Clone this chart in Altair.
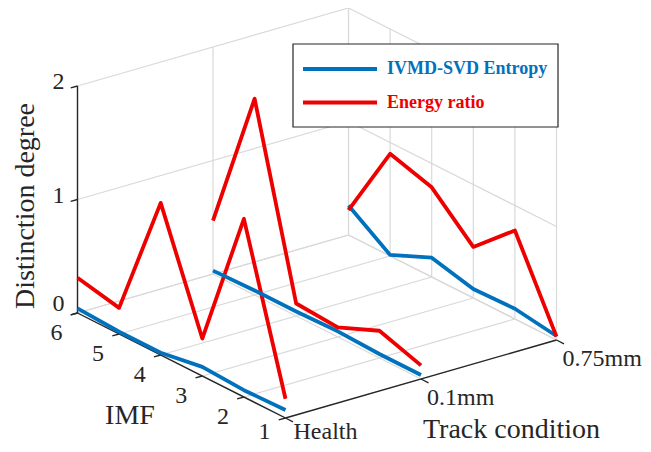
import altair as alt
import pandas as pd

# ---------------- data ----------------
imf_values = [1, 2, 3, 4, 5, 6]
conditions = ["Health", "0.1mm", "0.75mm"]
series_names = ["IVMD-SVD Entropy", "Energy ratio"]
series_colors = ["#0072BD", "#EE0000"]

# values for IMF 1..6
entropy_health = [0.07, 0.06, 0.08, 0.02, 0.02, 0.04]
entropy_01mm = [0.035, 0.035, 0.05, 0.04, 0.04, 0.03]
entropy_075mm = [0.035, 0.09, 0.08, 0.17, 0.01, 0.26]
energy_health = [0.17, 1.57, 0.33, 1.34, 0.23, 0.31]
energy_01mm = [0.12, 0.24, 0.085, 0.11, 1.73, 0.47]
energy_075mm = [0.03, 0.78, 0.45, 0.79, 0.90, 0.22]

z_ticks = [0, 1, 2]
z_labels = ["0", "1", "2"]
imf_labels = ["1", "2", "3", "4", "5", "6"]

z_title = "Distinction degree"
imf_title = "IMF"
cond_title = "Track condition"

# ---------------- 3-D view (projection onto the page) ----------------
OX, OY = 77.5, 313.0      # corner IMF 6 / Health / z = 0
AX, AY = 41.6, 21.0       # one IMF step towards IMF 1
BX, BY = 135.5, -39.0     # one track-condition step
CZ = -113.5               # one unit of distinction degree

FONT = "Liberation Serif"
TXT = "#262626"


def px(i, c):
    return f"{OX} + (6 - ({i})) * {AX} + ({c}) * {BX}"


def py(i, c, z):
    return f"{OY} + (6 - ({i})) * {AY} + ({c}) * ({BY}) + ({z}) * ({CZ})"


XS = alt.Scale(domain=[8, 643], nice=False, zero=False)
YS = alt.Scale(domain=[444, 8], nice=False, zero=False)


def X(f):
    return alt.X(f"{f}:Q", scale=XS, axis=None)


def Y(f):
    return alt.Y(f"{f}:Q", scale=YS, axis=None)


def point_chart(df):
    return alt.Chart(df).transform_calculate(
        px=px("datum.i", "datum.c"), py=py("datum.i", "datum.c", "datum.z")
    )


def seg_chart(df):
    return alt.Chart(df).transform_calculate(
        px=px("datum.i", "datum.c"), py=py("datum.i", "datum.c", "datum.z"),
        px2=px("datum.i2", "datum.c2"), py2=py("datum.i2", "datum.c2", "datum.z2"),
    )


# ---------------- series table ----------------
series_values = {
    ("Health", "IVMD-SVD Entropy"): entropy_health,
    ("0.1mm", "IVMD-SVD Entropy"): entropy_01mm,
    ("0.75mm", "IVMD-SVD Entropy"): entropy_075mm,
    ("Health", "Energy ratio"): energy_health,
    ("0.1mm", "Energy ratio"): energy_01mm,
    ("0.75mm", "Energy ratio"): energy_075mm,
}
rows = []
for ci, cname in enumerate(conditions):
    for sname in series_names:
        for i, z in zip(imf_values, series_values[(cname, sname)]):
            rows.append(dict(c=ci, condition=cname, series=sname, i=i, z=z))
series_df = pd.DataFrame(rows)

# ---------------- grid, axes, ticks ----------------
grid = []
last = len(conditions) - 1
for c in range(len(conditions)):
    grid.append((6, c, 0, 6, c, 2))          # back wall verticals
    grid.append((6, c, 0, 1, c, 0))          # floor lines along IMF
for z in z_ticks:
    grid.append((6, 0, z, 6, last, z))       # back wall horizontals
    grid.append((6, last, z, 1, last, z))    # side wall horizontals
for i in imf_values:
    grid.append((i, last, 0, i, last, 2))    # side wall verticals
    grid.append((i, 0, 0, i, last, 0))       # floor lines along condition
cols = ["i", "c", "z", "i2", "c2", "z2"]
grid_df = pd.DataFrame(grid, columns=cols)

axes_df = pd.DataFrame([
    (6, 0, 0, 6, 0, 2),
    (6, 0, 0, 1, 0, 0),
    (1, 0, 0, 1, last, 0),
], columns=cols)

ticks = []
for i in imf_values:
    ticks.append((i, 0, 0, i, -0.05, 0))
for z in z_ticks:
    ticks.append((6, 0, z, 6, -0.05, z))
for c in range(len(conditions)):
    ticks.append((1, c, 0, 0.82, c, 0))
ticks_df = pd.DataFrame(ticks, columns=cols)

layers = []
layers.append(seg_chart(grid_df).mark_rule(color="#d9d9d9", strokeWidth=1.2).encode(
    x=X("px"), y=Y("py"), x2=alt.X2("px2:Q"), y2=alt.Y2("py2:Q")))
layers.append(seg_chart(axes_df).mark_rule(color=TXT, strokeWidth=1.4).encode(
    x=X("px"), y=Y("py"), x2=alt.X2("px2:Q"), y2=alt.Y2("py2:Q")))
layers.append(seg_chart(ticks_df).mark_rule(color=TXT, strokeWidth=1.4).encode(
    x=X("px"), y=Y("py"), x2=alt.X2("px2:Q"), y2=alt.Y2("py2:Q")))

layers.append(point_chart(series_df).mark_line(strokeWidth=3.8, strokeJoin="round").encode(
    x=X("px"), y=Y("py"),
    color=alt.Color("series:N", scale=alt.Scale(domain=series_names, range=series_colors), legend=None),
    detail="condition:N",
    order="i:Q",
))

# ---------------- tick labels ----------------
zlab_df = pd.DataFrame({"i": 6, "c": 0, "z": z_ticks, "label": z_labels})
zlab = point_chart(zlab_df)
layers.append(zlab.transform_filter("datum.z == 0").mark_text(
    font=FONT, fontSize=24, color=TXT, align="right", baseline="middle", dx=-13, dy=-9
).encode(x=X("px"), y=Y("py"), text="label:N"))
layers.append(zlab.transform_filter("datum.z > 0").mark_text(
    font=FONT, fontSize=24, color=TXT, align="right", baseline="middle", dx=-13, dy=-4
).encode(x=X("px"), y=Y("py"), text="label:N"))

ilab_df = pd.DataFrame({"i": imf_values, "c": 0, "z": 0, "label": imf_labels})
ilab = point_chart(ilab_df)
layers.append(ilab.transform_filter("datum.i == 1").mark_text(
    font=FONT, fontSize=24, color=TXT, align="center", baseline="alphabetic", dx=-21, dy=21
).encode(x=X("px"), y=Y("py"), text="label:N"))
layers.append(ilab.transform_filter("datum.i > 1").mark_text(
    font=FONT, fontSize=24, color=TXT, align="center", baseline="alphabetic", dx=-21, dy=27
).encode(x=X("px"), y=Y("py"), text="label:N"))

clab_df = pd.DataFrame({"i": 1, "c": list(range(len(conditions))), "z": 0, "label": conditions})
clab = point_chart(clab_df)
layers.append(clab.transform_filter("datum.c == 0").mark_text(
    font=FONT, fontSize=24, color=TXT, align="left", baseline="alphabetic", dx=8, dy=21
).encode(x=X("px"), y=Y("py"), text="label:N"))
layers.append(clab.transform_filter("datum.c > 0").mark_text(
    font=FONT, fontSize=24, color=TXT, align="left", baseline="alphabetic", dx=6, dy=26
).encode(x=X("px"), y=Y("py"), text="label:N"))

# ---------------- axis titles ----------------
title_df = pd.DataFrame([{"t": z_title}])
layers.append(alt.Chart(title_df).mark_text(
    font=FONT, fontSize=28, color=TXT, angle=270, align="center", baseline="alphabetic"
).encode(x=alt.value(34 - 8), y=alt.value(206 - 8), text="t:N"))

imf_title_df = pd.DataFrame([{"t": imf_title}])
layers.append(alt.Chart(imf_title_df).mark_text(
    font=FONT, fontSize=28, color=TXT, align="center", baseline="alphabetic"
).encode(x=alt.value(130 - 8), y=alt.value(424 - 8), text="t:N"))

cond_title_df = pd.DataFrame([{"t": cond_title}])
layers.append(alt.Chart(cond_title_df).mark_text(
    font=FONT, fontSize=28, color=TXT, align="left", baseline="alphabetic"
).encode(x=alt.value(423 - 8), y=alt.value(438 - 8), text="t:N"))

# ---------------- legend ----------------
box_df = pd.DataFrame([{"k": 0}])
layers.append(alt.Chart(box_df).mark_rect(fill="white", stroke=TXT, strokeWidth=1.2).encode(
    x=alt.value(293 - 8), x2=alt.value(558 - 8), y=alt.value(44 - 8), y2=alt.value(127 - 8)))

leg_df = pd.DataFrame({"series": series_names, "row": list(range(len(series_names)))})
leg = alt.Chart(leg_df).transform_calculate(ly="69 + datum.row * 33.5")
colour = alt.Color("series:N", scale=alt.Scale(domain=series_names, range=series_colors), legend=None)
layers.append(leg.mark_rule(strokeWidth=3.8).encode(
    x=alt.value(303 - 8), x2=alt.value(377 - 8), y=Y("ly"), color=colour))
layers.append(leg.mark_text(
    font=FONT, fontSize=18, fontWeight="bold", align="left", baseline="middle"
).encode(x=alt.value(387 - 8), y=Y("ly"), text="series:N", color=colour))

chart = alt.layer(*layers).properties(
    width=635, height=436, padding=0,
    autosize=alt.AutoSizeParams(type="none"),
).configure_view(stroke=None)

chart.save("out.html", embed_options={"renderer": "svg", "actions": False})
